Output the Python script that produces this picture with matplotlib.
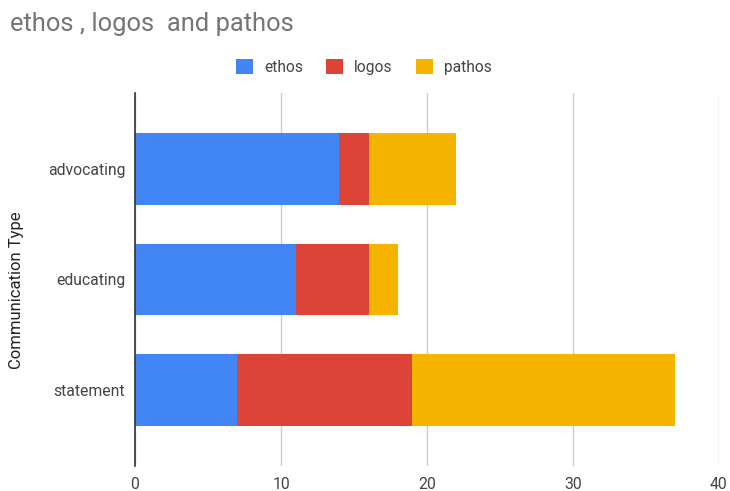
import matplotlib
matplotlib.use("Agg")
import matplotlib.pyplot as plt
import numpy as np

categories = ["statement", "educating", "advocating"]
ethos = [7, 11, 14]
logos = [12, 5, 2]
pathos = [18, 2, 6]
series_names = ["ethos", "logos", "pathos"]
colors = ["#4285F4", "#DB4437", "#F4B400"]
xticks = [0, 10, 20, 30, 40]

plt.rcParams['font.family'] = ['Roboto', 'DejaVu Sans']

fig = plt.figure(figsize=(7.3, 4.91), dpi=100)
ax = fig.add_axes([135/730, 1-466/491, (719-135)/730, (466-93)/491])

y = np.arange(len(categories))
left = np.zeros(len(categories))
handles = []
for vals, name, c in zip([ethos, logos, pathos], series_names, colors):
    h = ax.barh(y, vals, left=left, height=0.65, color=c, label=name, zorder=3)
    handles.append(h)
    left = left + np.array(vals)

ax.set_xlim(0, 40)
ax.set_ylim(-0.685, 2.685)
ax.set_xticks(xticks)
ax.set_xticklabels([str(t) for t in xticks])
ax.set_yticks(y)
ax.set_yticklabels(categories)
ax.grid(axis='x', color='#cccccc', linewidth=1, zorder=0)
for s in ['top', 'right', 'bottom']:
    ax.spines[s].set_visible(False)
ax.spines['left'].set_color('#333333')
ax.spines['left'].set_linewidth(1.2)
ax.spines['left'].set_zorder(4)
ax.tick_params(axis='both', length=0, colors='#444444', labelsize=11.3)
ax.tick_params(axis='x', pad=8)
ax.tick_params(axis='y', pad=7)

fig.text(17/730, 1-290/491, "Communication Type", fontsize=12, color='#222222',
         rotation=90, ha='center', va='center')

fig.text(10/730, 1-24/491, "ethos , logos  and pathos", fontsize=18.4, color='#757575',
         ha='left', va='center')

fig.legend(handles=handles, labels=series_names, loc='center', bbox_to_anchor=(364/730, 1-67/491),
           ncol=3, frameon=False, fontsize=11.2, handlelength=1.1, handleheight=1.1,
           handletextpad=0.7, columnspacing=1.5, labelcolor='#444444')

fig.savefig("out.png", dpi=100)
